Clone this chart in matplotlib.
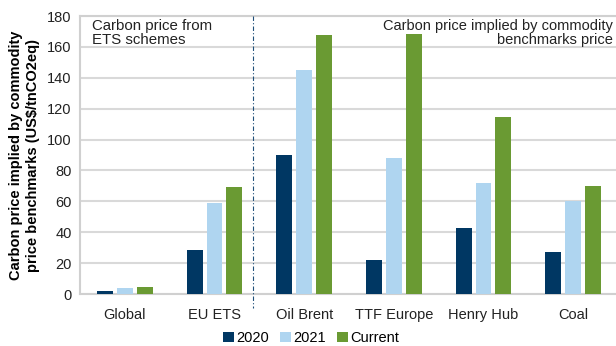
import numpy as np
import matplotlib
matplotlib.use('Agg')
import matplotlib.pyplot as plt

plt.rcParams['font.family'] = ['Liberation Sans', 'DejaVu Sans']

categories = ['Global', 'EU ETS', 'Oil Brent', 'TTF Europe', 'Henry Hub', 'Coal']
series_names = ['2020', '2021', 'Current']
values_2020 = [2, 28.5, 90, 22, 42.5, 27.5]
values_2021 = [4, 59, 145, 88, 72, 60]
values_current = [4.5, 69, 168, 168.5, 114.5, 70]

COLORS = ['#003763', '#AFD5F0', '#6A9A33']

fig = plt.figure(figsize=(6.16, 3.46), dpi=100)
ax = fig.add_axes([80 / 616, 1 - 294 / 346, 538 / 616, 278 / 346])

x = np.arange(len(categories))
width = 0.178
step = 0.222
all_series = [values_2020, values_2021, values_current]
for i, (name, vals, col) in enumerate(zip(series_names, all_series, COLORS)):
    ax.bar(x + (i - 1) * step, vals, width, color=col, label=name, zorder=3)

ax.set_xlim(-0.5, len(categories) - 0.5)
ax.set_ylim(0, 180)
ax.set_yticks(range(0, 181, 20))
ax.set_xticks(x)
ax.set_xticklabels(categories)
ax.tick_params(axis='both', length=0, labelsize=10.5, colors='#222222')
ax.tick_params(axis='x', pad=10)
ax.tick_params(axis='y', pad=6)
ax.grid(axis='y', color='#D9D9D9', linewidth=1.5, zorder=0)
for side in ['left', 'top', 'right', 'bottom']:
    ax.spines[side].set_color('#D0D0D0')
    ax.spines[side].set_linewidth(1.5)

ax.set_ylabel('Carbon price implied by commodity\nprice benchmarks (US$/tnCO2eq)',
              fontsize=10.5, fontweight='bold', linespacing=1.25, labelpad=5)

# divider between ETS schemes and commodity benchmarks
ax.plot([1.43, 1.43], [1.0, -0.05], transform=ax.get_xaxis_transform(),
        color='#1F4E79', linestyle=(0, (4, 2, 1, 2)), linewidth=0.8,
        clip_on=False, zorder=4)

ax.text(0.022, 0.99, 'Carbon price from\nETS schemes', transform=ax.transAxes,
        ha='left', va='top', fontsize=10.8, color='#222222', linespacing=1.05)
ax.text(0.99, 0.99, 'Carbon price implied by commodity\nbenchmarks price',
        transform=ax.transAxes, ha='right', va='top', fontsize=10.5,
        color='#222222', linespacing=1.05)

fig.legend(loc='center', bbox_to_anchor=(0.505, 1 - 338 / 346), ncol=3,
           frameon=False, fontsize=10.5, handlelength=0.75, handleheight=0.75,
           handletextpad=0.15, columnspacing=0.75, borderaxespad=0)

fig.savefig('out.png', dpi=100)
